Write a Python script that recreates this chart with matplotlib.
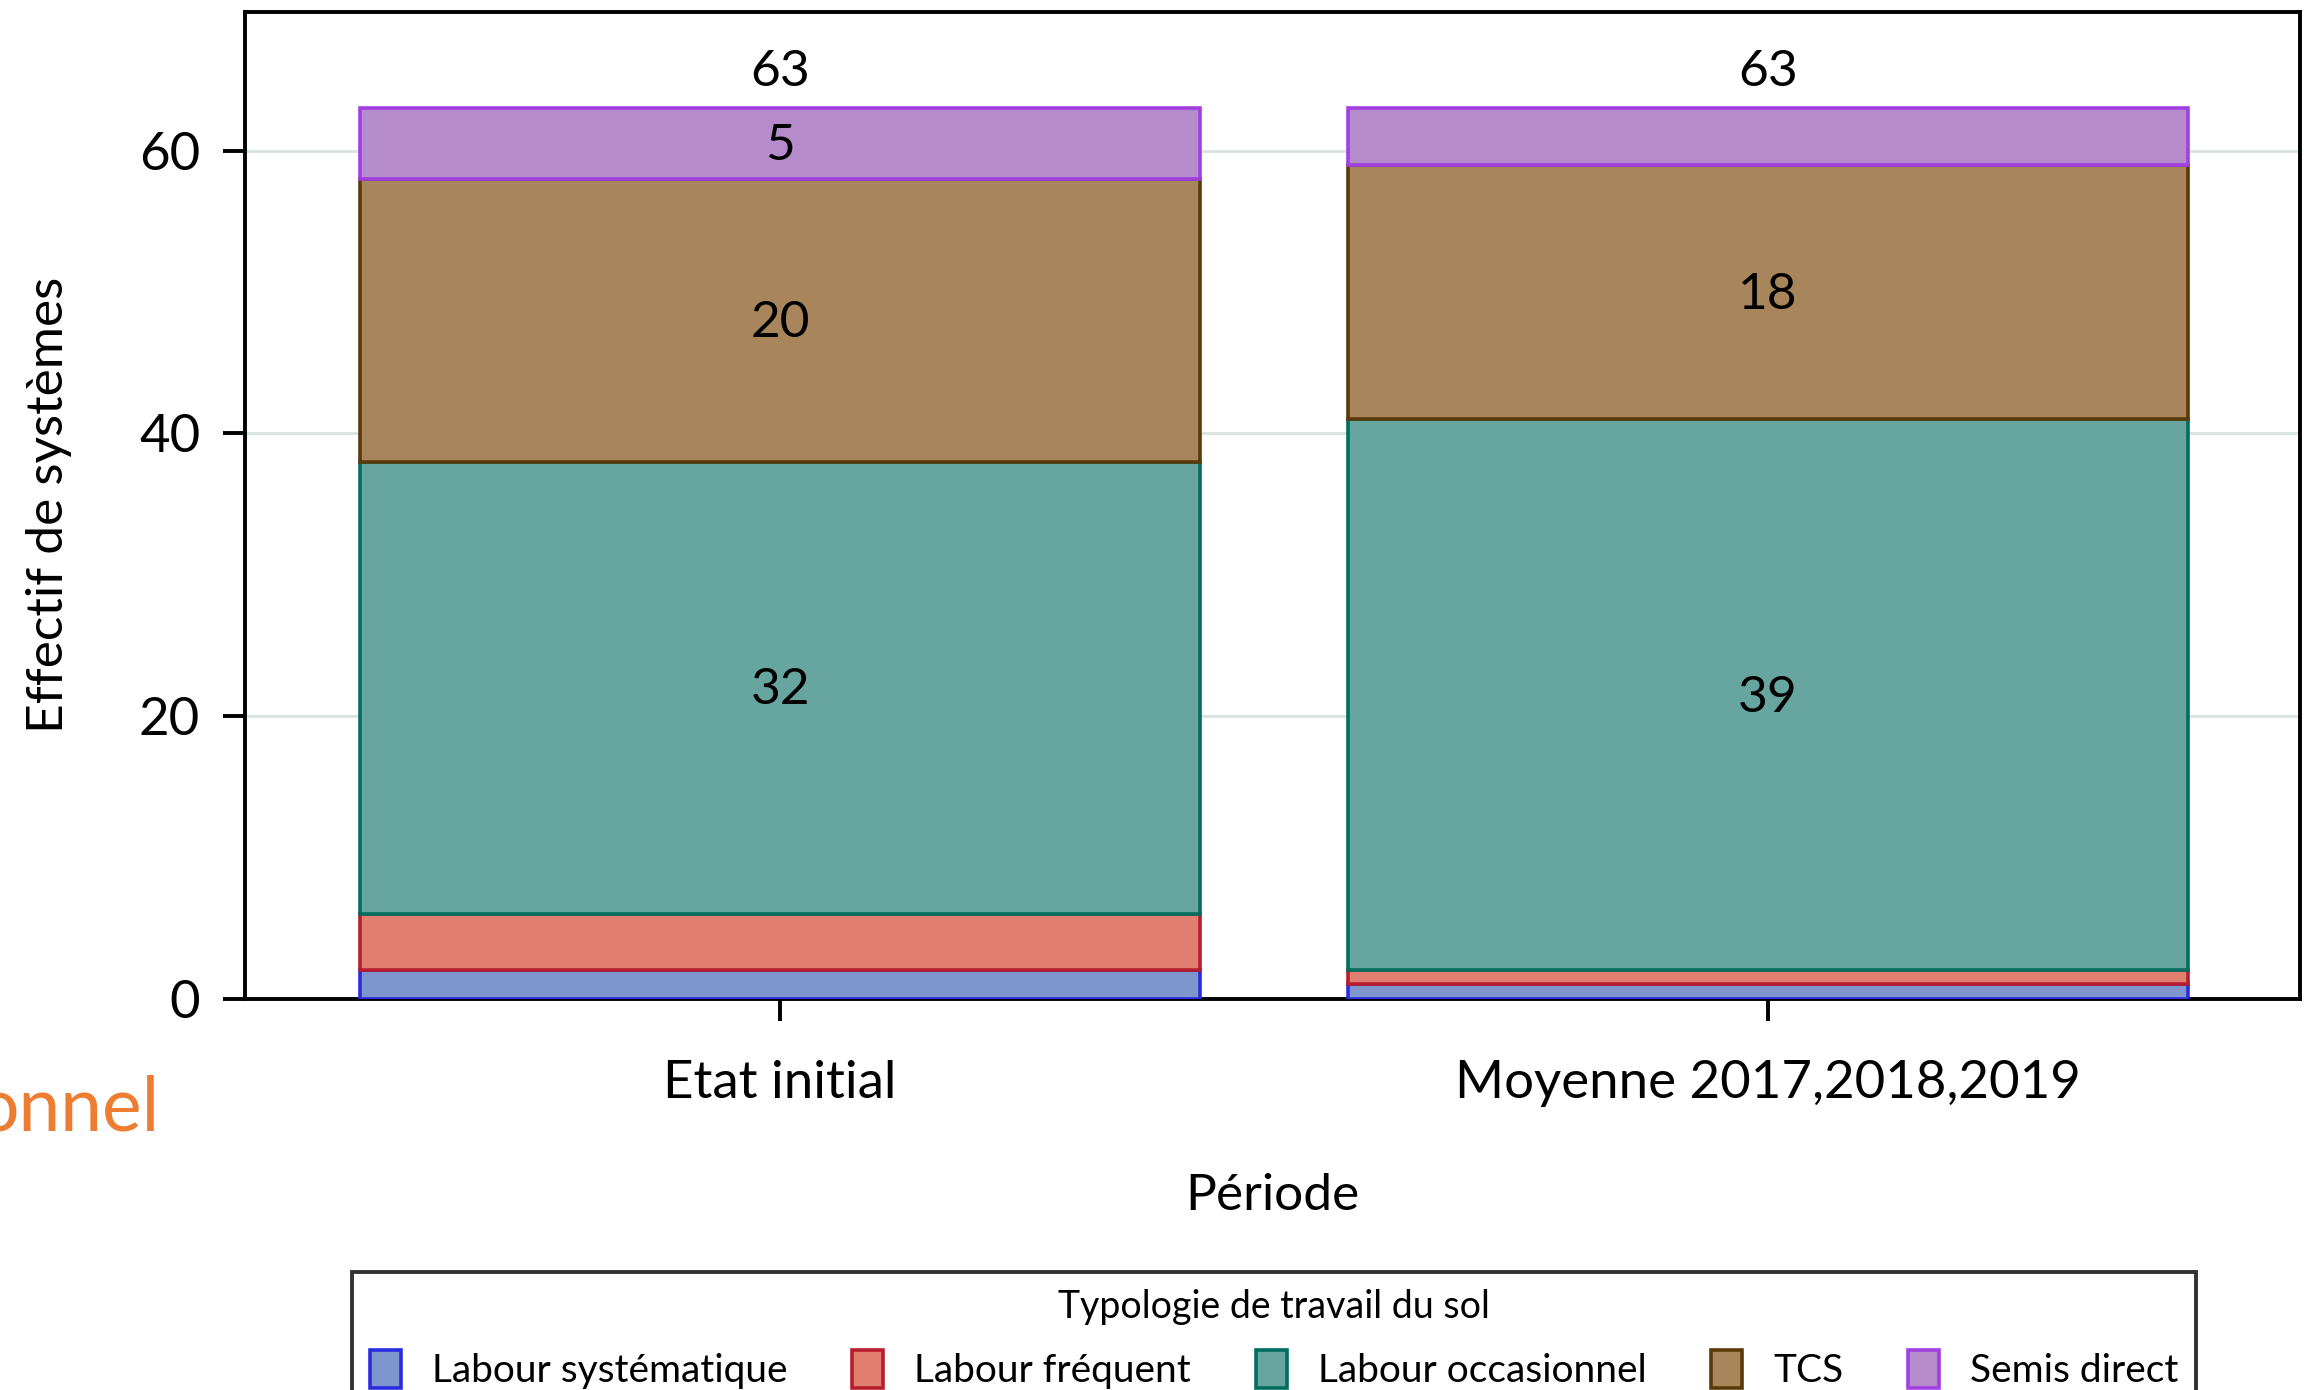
import numpy as np
from matplotlib import pyplot as plt

plt.rcParams['font.family'] = ['Lato', 'DejaVu Sans']

periodes = ["Etat initial", "Moyenne 2017,2018,2019"]
categories = ["Labour systématique", "Labour fréquent", "Labour occasionnel", "TCS", "Semis direct"]
valeurs = {
    "Labour systématique": [2, 1],
    "Labour fréquent": [4, 1],
    "Labour occasionnel": [32, 39],
    "TCS": [20, 18],
    "Semis direct": [5, 4],
}
# etiquettes affichees dans les barres (None = pas d'etiquette)
etiquettes = {
    "Labour occasionnel": ["32", "39"],
    "TCS": ["20", "18"],
    "Semis direct": ["5", None],
}
remplissage = ["#7f96cc", "#e07f6f", "#67a69f", "#a8855b", "#b68bcb"]
contour = ["#2b2be0", "#b81d2e", "#006d5f", "#5a3a0a", "#a23fe0"]

fig = plt.figure(figsize=(11.595, 6.95), dpi=200)
ax = fig.add_axes([0.1055, 0.2816, 0.8865, 0.7097])

x = np.arange(len(periodes))
bas = np.zeros(len(periodes))
for i, cat in enumerate(categories):
    v = np.array(valeurs[cat], dtype=float)
    ax.bar(x, v, 0.85, bottom=bas, color=remplissage[i], edgecolor=contour[i],
           linewidth=1.3, label=cat, zorder=3)
    if cat in etiquettes:
        for j, lab in enumerate(etiquettes[cat]):
            if lab is not None:
                ax.text(x[j], bas[j] + v[j] / 2 - 0.2, lab, ha="center", va="center",
                        fontsize=18.5, zorder=4)
    bas += v

for j in range(len(periodes)):
    ax.text(x[j], bas[j] + 0.9, str(int(bas[j])), ha="center", va="bottom", fontsize=18.5)

ax.set_ylim(0, 69.8)
ax.set_xlim(-0.542, 1.539)
ax.set_yticks([0, 20, 40, 60])
ax.set_xticks(x)
ax.set_xticklabels(periodes)
ax.yaxis.grid(True, color="#d8e2de", linewidth=1.0, zorder=0)
ax.set_axisbelow(True)
ax.tick_params(axis="both", labelsize=19, width=1.4, length=8, direction="out")
ax.tick_params(axis="y", pad=8)
ax.tick_params(axis="x", pad=14)
for s in ax.spines.values():
    s.set_linewidth(1.4)

ax.set_ylabel("Effectif de systèmes", fontsize=18.5, labelpad=24)
ax.set_xlabel("Période", fontsize=18.5, labelpad=24)

fig.text(0.069, 0.202, "onnel", color="#ed7d31", fontsize=27, ha="right", va="center")

leg = fig.legend(loc="upper left", bbox_to_anchor=(0.1518, -0.02, 0.7953, 0.105), mode="expand",
                 borderaxespad=0, ncol=5, title="Typologie de travail du sol",
                 fontsize=14, title_fontsize=13.5,
                 frameon=True, fancybox=False, edgecolor="black", handlelength=0.8,
                 handleheight=1.1, handletextpad=0.8, columnspacing=1.2, borderpad=0.45,
                 labelspacing=0.2)
leg.get_frame().set_linewidth(1.4)
leg._legend_box.sep = 9

fig.savefig("out.png", dpi=200)
